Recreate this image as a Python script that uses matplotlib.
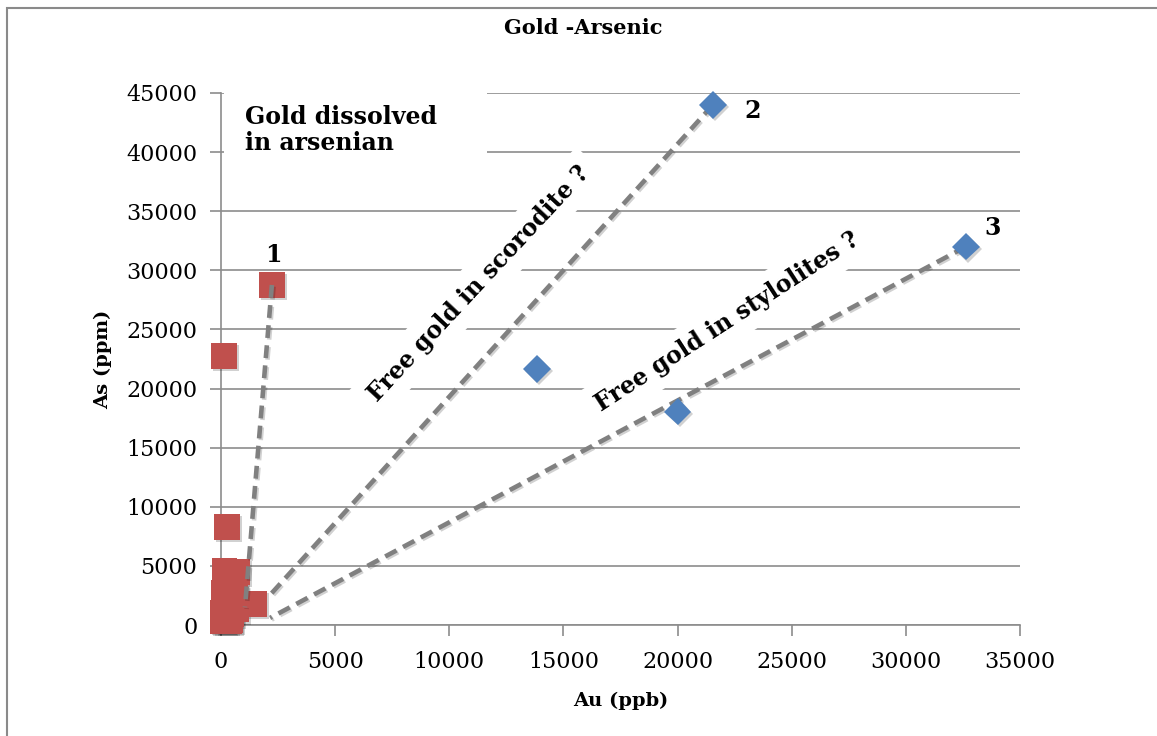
import matplotlib
matplotlib.use("Agg")
import matplotlib.pyplot as plt
import matplotlib.patheffects as pe
from matplotlib.patches import Rectangle

# Red series: samples where gold is carried by arsenian minerals
au_red = [2230, 130, 260, 150, 700, 250, 600, 120, 500, 1450, 320, 650,
          100, 450, 300, 60, 400, 200, 100, 350]
as_red = [28760, 22750, 8300, 4600, 4500, 3600, 3100, 2700, 2200, 1800,
          1600, 1300, 1000, 900, 600, 450, 400, 350, 300, 300]

# Blue series: samples with free gold
au_blue = [21550, 13840, 20000, 32630]
as_blue = [44000, 21650, 18050, 32000]

# Trend lines (start / end points in Au, As)
trend_au = [[2230, 1050], [21550, 2150], [32630, 2150]]
trend_as = [[28760, 1500], [44000, 2540], [32000, 600]]

# Point labels
point_labels = ["1", "2", "3"]
label_au = [2280, 23300, 33800]
label_as = [31300, 43500, 33600]

x_ticks = [0, 5000, 10000, 15000, 20000, 25000, 30000, 35000]
y_ticks = [0, 5000, 10000, 15000, 20000, 25000, 30000, 35000, 40000, 45000]

RED = "#C0504D"
BLUE = "#4F81BD"
GRID = "#8C8C8C"
DASH = "#808080"
FONT = "DejaVu Serif"

W, H = 1157, 736
fig = plt.figure(figsize=(W / 100, H / 100), dpi=100)
fig.patch.set_facecolor("white")

# outer chart frame
fig.add_artist(Rectangle((7 / W, -0.05), 1.1, 1.05 - 8 / H, transform=fig.transFigure,
                         fill=False, ec="#8A8A8A", lw=1.5, clip_on=False))

ax = fig.add_axes([221 / W, 1 - 625 / H, 799 / W, 532 / H])
ax.set_xlim(0, 35000)
ax.set_ylim(0, 45000)
ax.set_xticks(x_ticks)
ax.set_yticks(y_ticks)
ax.set_xticklabels([str(v) for v in x_ticks])
ax.set_yticklabels([str(v) for v in y_ticks])

ax.set_axisbelow(True)
ax.yaxis.grid(True, color=GRID, lw=1.2)
ax.xaxis.grid(False)
for s in ("top", "right"):
    ax.spines[s].set_visible(False)
for s in ("left", "bottom"):
    ax.spines[s].set_color(GRID)
    ax.spines[s].set_linewidth(1.2)
    ax.spines[s].set_zorder(2.5)
ax.tick_params(axis="both", direction="out", length=8, width=1.2, color=GRID,
               labelsize=16, labelcolor="black")
ax.tick_params(axis="x", pad=11)
ax.tick_params(axis="y", pad=9)
for lab in ax.get_xticklabels() + ax.get_yticklabels():
    lab.set_fontfamily(FONT)

# white text box behind the top-left annotation
ax.add_patch(Rectangle((150, 37300), 11500, 9000, fc="white", ec="none",
                       zorder=1, clip_on=False))

shadow = [pe.SimplePatchShadow(offset=(1.5, -1.5), shadow_rgbFace="black", alpha=0.18),
          pe.Normal()]
line_shadow = [pe.SimpleLineShadow(offset=(1.2, -1.2), shadow_color="black", alpha=0.18),
               pe.Normal()]

ax.plot(au_red, as_red, ls="none", marker="s", ms=18.5, mfc=RED, mec="none",
        zorder=3, clip_on=False, path_effects=shadow)

for xs, ys in zip(trend_au, trend_as):
    ax.plot(xs, ys, color=DASH, lw=3.3, ls=(0, (2.8, 1.6)), dash_capstyle="butt",
            zorder=4, path_effects=line_shadow)

ax.plot(au_blue, as_blue, ls="none", marker="D", ms=14, mfc=BLUE, mec="none",
        zorder=5, clip_on=False, path_effects=shadow)

for t, x, y in zip(point_labels, label_au, label_as):
    ax.text(x, y, t, ha="center", va="center", fontsize=17, fontweight="bold",
            family=FONT, zorder=7)

ax.text(1050, 44000, "Gold dissolved\nin arsenian", ha="left", va="top",
        fontsize=17, fontweight="bold", family=FONT, linespacing=1.1, zorder=7)

box = dict(boxstyle="square,pad=0.42", fc="white", ec="none")
ax.text(11300, 28900, "Free gold in scorodite ?", rotation=47,
        rotation_mode="anchor", ha="center", va="center", fontsize=17,
        fontweight="bold", family=FONT, bbox=box, zorder=3.5)
ax.text(22200, 25700, "Free gold in stylolites ?", rotation=33,
        rotation_mode="anchor", ha="center", va="center", fontsize=17,
        fontweight="bold", family=FONT, bbox=box, zorder=3.5)

fig.text(583 / W, 1 - 28 / H, "Gold -Arsenic", ha="center", va="center",
         fontsize=15, fontweight="bold", family=FONT)
ax.set_xlabel("Au (ppb)", fontsize=14, fontweight="bold", family=FONT, labelpad=13)
ax.set_ylabel("As (ppm)", fontsize=14, fontweight="bold", family=FONT, labelpad=10)

fig.savefig("out.png", dpi=100, facecolor="white")
